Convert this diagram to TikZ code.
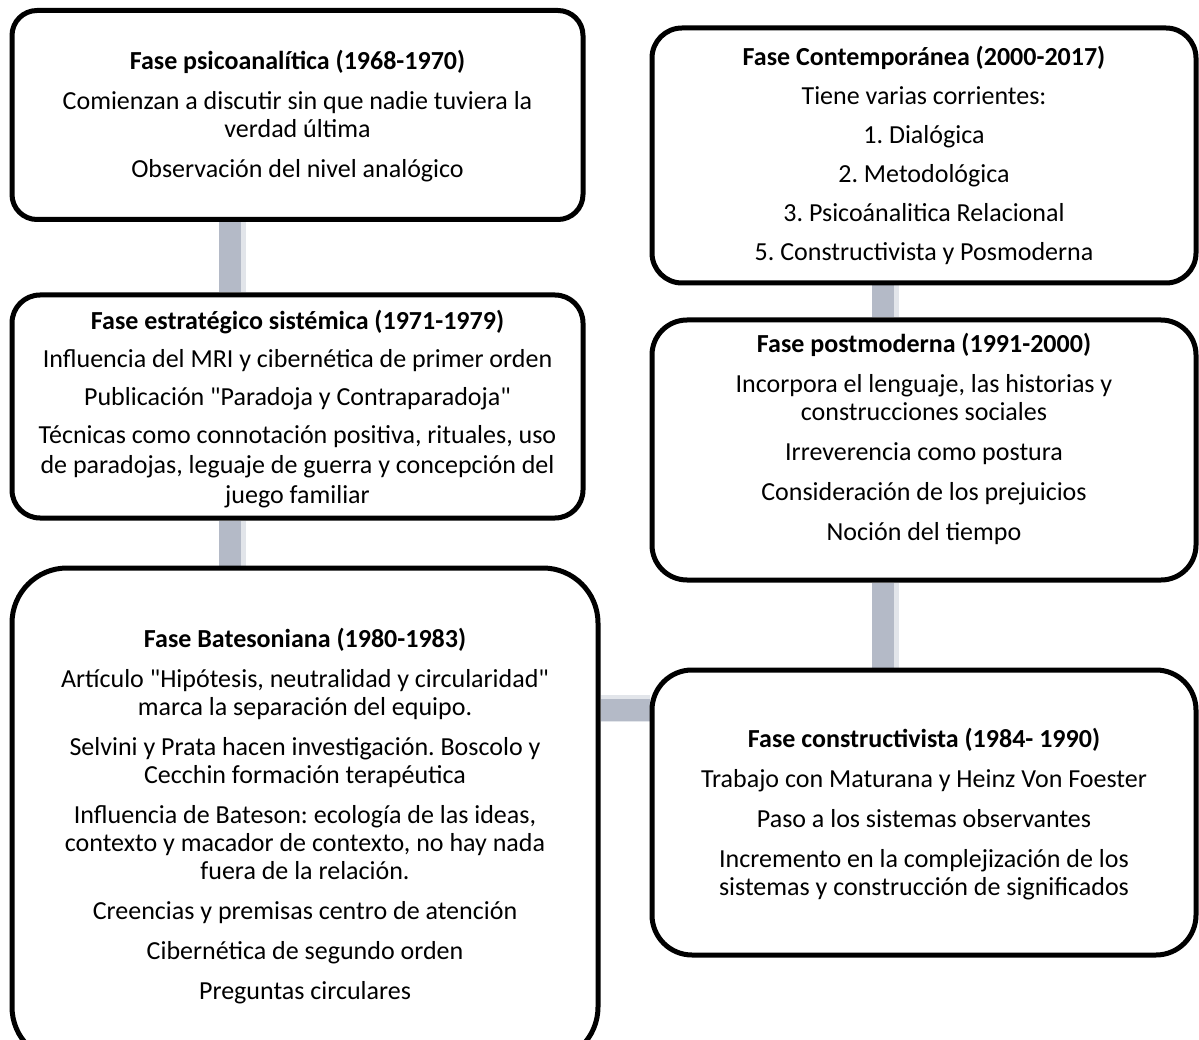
\documentclass[tikz,border=0pt]{standalone}
\usepackage{fontspec}
\setmainfont{Carlito}
\usetikzlibrary{backgrounds}
\definecolor{barcol}{RGB}{180,186,199}
\definecolor{barshade}{RGB}{226,229,234}
\newcommand{\dq}{\textquotedbl}
\tikzset{
  phase/.style={draw=black, line width=5pt, fill=white, rounded corners=#1, inner sep=0pt},
  phasetext/.style={align=center, font=\fontsize{26}{28}\selectfont\frenchspacing, inner sep=0pt},
  link/.style={draw=barcol, line width=22pt},
  linkshade/.style={draw=barshade, line width=27pt},
}
\begin{document}
\begin{tikzpicture}[x=1pt, y=-1pt]
  \path[use as bounding box, clip] (0,0) rectangle (1199,1040);

  % left column, top to bottom
  \node[phase=25pt, minimum width=571pt, minimum height=209pt] (b1) at (297.5,115) {};
  \node[phasetext] (t1) at (297.5,116) {\textbf{Fase psicoanalítica (1968-1970)}\\[12pt]
    Comienzan a discutir sin que nadie tuviera la\\ verdad última\\[12pt]
    Observación del nivel analógico};

  \node[phase=28pt, minimum width=571pt, minimum height=223pt] (b2) at (297.5,406.5) {};
  \node[phasetext] (t2) at (297.5,409) {\textbf{Fase estratégico sistémica (1971-1979)}\\[10pt]
    Influencia del MRI y cibernética de primer orden\\[10pt]
    Publicación \dq Paradoja y Contraparadoja\dq\\[10pt]
    Técnicas como connotación positiva, rituales, uso\\[2pt]
    de paradojas, leguaje de guerra y concepción del\\[2pt]
    juego familiar};

  \node[phase=55pt, minimum width=586pt, minimum height=494pt] (b3) at (305,815) {};
  \node[phasetext] (t3) at (305,816) {\textbf{Fase Batesoniana (1980-1983)}\\[12pt]
    Artículo \dq Hipótesis, neutralidad y circularidad\dq\\ marca la separación del equipo.\\[12pt]
    Selvini y Prata hacen investigación. Boscolo y\\ Cecchin formación terapéutica\\[12pt]
    Influencia de Bateson: ecología de las ideas,\\ contexto y macador de contexto, no hay nada\\ fuera de la relación.\\[12pt]
    Creencias y premisas centro de atención\\[12pt]
    Cibernética de segundo orden\\[12pt]
    Preguntas circulares};

  % right column, bottom to top
  \node[phase=40pt, minimum width=544pt, minimum height=285pt] (b4) at (924,812.5) {};
  \node[phasetext] (t4) at (924,814) {\textbf{Fase constructivista (1984- 1990)}\\[12pt]
    Trabajo con Maturana y Heinz Von Foester\\[12pt]
    Paso a los sistemas observantes\\[12pt]
    Incremento en la complejización de los\\ sistemas y construcción de significados};

  \node[phase=35pt, minimum width=544pt, minimum height=260pt] (b5) at (924,450) {};
  \node[phasetext] (t5) at (924,439) {\textbf{Fase postmoderna (1991-2000)}\\[12pt]
    Incorpora el lenguaje, las historias y\\ construcciones sociales\\[12pt]
    Irreverencia como postura\\[12pt]
    Consideración de los prejuicios\\[12pt]
    Noción del tiempo};

  \node[phase=30pt, minimum width=544pt, minimum height=255pt] (b6) at (924,155.5) {};
  \node[phasetext] (t6) at (924,155) {\textbf{Fase Contemporánea (2000-2017)}\\[11pt]
    Tiene varias corrientes:\\[11pt]
    1. Dialógica\\[11pt]
    2. Metodológica\\[11pt]
    3. Psicoánalitica Relacional\\[11pt]
    5. Constructivista y Posmoderna};

  % connector bars behind the boxes
  \coordinate (lx) at (230,0);
  \coordinate (rx) at (883,0);
  \coordinate (my) at (0,710);
  \begin{scope}[on background layer]
    \draw[linkshade] ([xshift=2pt]b1.south -| lx) -- ([xshift=2pt]b2.north -| lx);
    \draw[linkshade] ([xshift=2pt]b2.south -| lx) -- ([xshift=2pt]b3.north -| lx);
    \draw[linkshade] ([yshift=2pt]b3.east |- my) -- ([yshift=2pt]b4.west |- my);
    \draw[linkshade] ([xshift=2pt]b4.north -| rx) -- ([xshift=2pt]b5.south -| rx);
    \draw[linkshade] ([xshift=2pt]b5.north -| rx) -- ([xshift=2pt]b6.south -| rx);
    \draw[link] (b1.south -| lx) -- (b2.north -| lx);
    \draw[link] (b2.south -| lx) -- (b3.north -| lx);
    \draw[link] (b3.east |- my) -- (b4.west |- my);
    \draw[link] (b4.north -| rx) -- (b5.south -| rx);
    \draw[link] (b5.north -| rx) -- (b6.south -| rx);
  \end{scope}
\end{tikzpicture}
\end{document}
